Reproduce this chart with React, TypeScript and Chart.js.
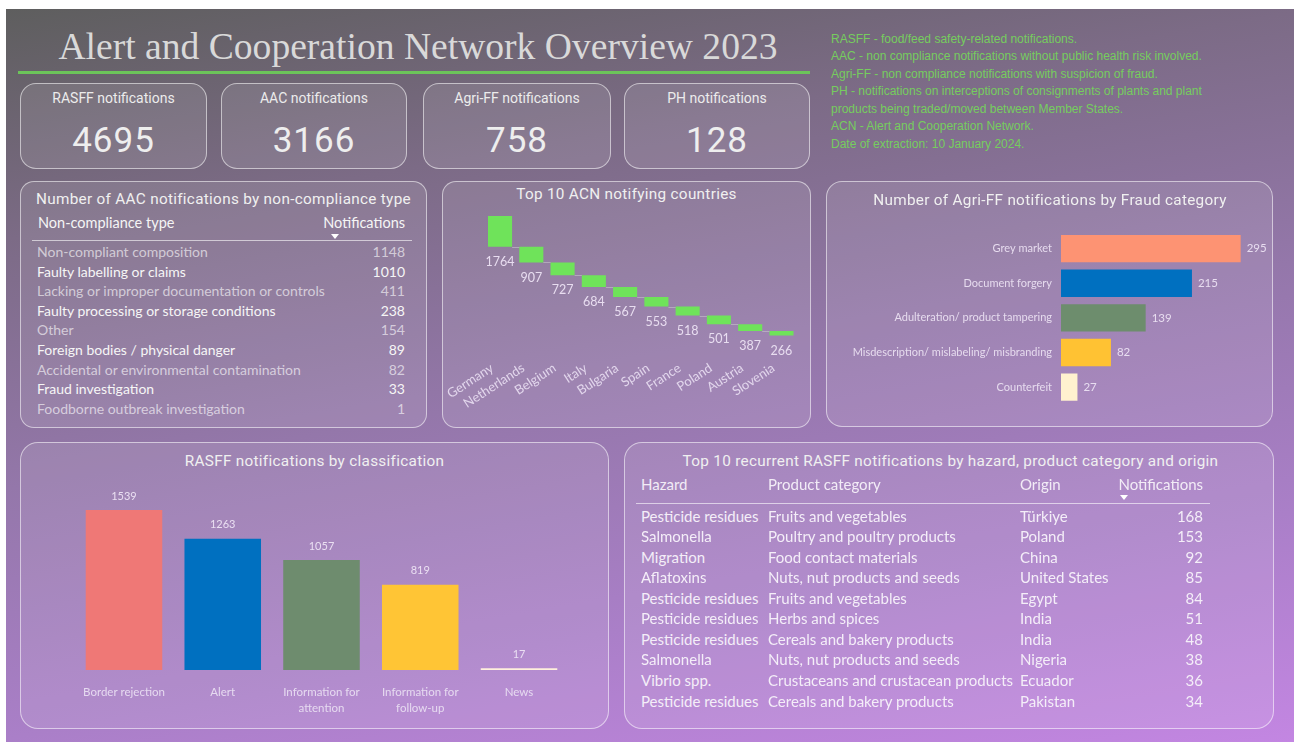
import React, { useEffect, useRef } from 'react';
import { Chart, registerables } from 'chart.js';

Chart.register(...registerables);
Chart.defaults.font.family = "Lato, 'Noto Sans', sans-serif";

// ---------------- data ----------------
const kpiLabels = ['RASFF notifications', 'AAC notifications', 'Agri-FF notifications', 'PH notifications'];
const kpiValues = [4695, 3166, 758, 128];

const noteLines = [
  'RASFF - food/feed safety-related notifications.',
  'AAC - non compliance notifications without public health risk involved.',
  'Agri-FF - non compliance notifications with suspicion of fraud.',
  'PH - notifications on interceptions of consignments of plants and plant',
  'products being traded/moved between Member States.',
  'ACN - Alert and Cooperation Network.',
  'Date of extraction: 10 January 2024.',
];

const aacTypes = [
  'Non-compliant composition',
  'Faulty labelling or claims',
  'Lacking or improper documentation or controls',
  'Faulty processing or storage conditions',
  'Other',
  'Foreign bodies / physical danger',
  'Accidental or environmental contamination',
  'Fraud investigation',
  'Foodborne outbreak investigation',
];
const aacCounts = [1148, 1010, 411, 238, 154, 89, 82, 33, 1];

const acnCountries = ['Germany', 'Netherlands', 'Belgium', 'Italy', 'Bulgaria', 'Spain', 'France', 'Poland', 'Austria', 'Slovenia'];
const acnCounts = [1764, 907, 727, 684, 567, 553, 518, 501, 387, 266];

const fraudCategories = [
  'Grey market',
  'Document forgery',
  'Adulteration/ product tampering',
  'Misdescription/ mislabeling/ misbranding',
  'Counterfeit',
];
const fraudCounts = [295, 215, 139, 82, 27];
const fraudColors = ['#fd9373', '#0070c0', '#6d8d6d', '#ffc233', '#fff1cf'];

const rasffClasses: (string | string[])[] = [
  'Border rejection',
  'Alert',
  ['Information for', 'attention'],
  ['Information for', 'follow-up'],
  'News',
];
const rasffCounts = [1539, 1263, 1057, 819, 17];
const rasffColors = ['#ef7876', '#0070c0', '#6e8c6e', '#ffc535', '#fff0dc'];

const topHazards = [
  'Pesticide residues', 'Salmonella', 'Migration', 'Aflatoxins', 'Pesticide residues',
  'Pesticide residues', 'Pesticide residues', 'Salmonella', 'Vibrio spp.', 'Pesticide residues',
];
const topProducts = [
  'Fruits and vegetables', 'Poultry and poultry products', 'Food contact materials', 'Nuts, nut products and seeds',
  'Fruits and vegetables', 'Herbs and spices', 'Cereals and bakery products', 'Nuts, nut products and seeds',
  'Crustaceans and crustacean products', 'Cereals and bakery products',
];
const topOrigins = ['Türkiye', 'Poland', 'China', 'United States', 'Egypt', 'India', 'India', 'Nigeria', 'Ecuador', 'Pakistan'];
const topCounts = [168, 153, 92, 85, 84, 51, 48, 38, 36, 34];

// ---------------- helpers ----------------
const DIN = "Roboto, 'Noto Sans', sans-serif";
const SEG = "Lato, 'Noto Sans', sans-serif";

type TxtProps = {
  x: number; y: number; text: string; size: number; color: string;
  family?: string; weight?: number; align?: 'left' | 'right' | 'center'; ls?: number;
};
function Txt({ x, y, text, size, color, family = SEG, weight = 400, align = 'left', ls = 0 }: TxtProps) {
  const lh = Math.round(size * 1.4);
  let left = x;
  let width: number | undefined = undefined;
  if (align === 'right') { left = x - 1000; width = 1000; }
  if (align === 'center') { left = x - 600; width = 1200; }
  return (
    <div style={{
      position: 'absolute', left, top: y - lh / 2, width, height: lh, lineHeight: lh + 'px',
      fontSize: size, fontFamily: family, fontWeight: weight, color, textAlign: align,
      whiteSpace: 'nowrap', letterSpacing: ls,
    }}>{text}</div>
  );
}

function Panel({ l, t, r, b, radius = 16 }: { l: number; t: number; r: number; b: number; radius?: number }) {
  return (
    <div style={{
      position: 'absolute', left: l, top: t, width: r - l, height: b - t, boxSizing: 'border-box',
      border: '1.5px solid rgba(255,255,255,0.55)', borderRadius: radius, background: 'rgba(255,255,255,0.10)',
    }} />
  );
}

function SortArrow({ x, y }: { x: number; y: number }) {
  return (
    <div style={{
      position: 'absolute', left: x - 4, top: y - 2, width: 0, height: 0,
      borderLeft: '4px solid transparent', borderRight: '4px solid transparent', borderTop: '5px solid #ffffff',
    }} />
  );
}

function ChartBox({ left, top, width, height, make }: { left: number; top: number; width: number; height: number; make: () => any }) {
  const ref = useRef<HTMLCanvasElement>(null);
  useEffect(() => {
    const chart = new Chart(ref.current as HTMLCanvasElement, make());
    return () => chart.destroy();
  }, []);
  return (
    <div style={{ position: 'absolute', left, top, width, height }}>
      <canvas ref={ref} width={width} height={height} style={{ width, height, display: 'block' }} />
    </div>
  );
}

// ---------------- chart configs ----------------
function makeRasff() {
  const labelPlugin = {
    id: 'rasffLabels',
    afterDatasetsDraw(chart: any) {
      const ctx = chart.ctx;
      const meta = chart.getDatasetMeta(0);
      ctx.save();
      ctx.font = `11px ${SEG}`;
      ctx.fillStyle = '#eadff2';
      ctx.textAlign = 'center';
      ctx.textBaseline = 'middle';
      meta.data.forEach((el: any, i: number) => {
        ctx.fillText(String(rasffCounts[i]), el.x, el.y - 14);
      });
      ctx.restore();
    },
  };
  return {
    type: 'bar',
    data: {
      labels: rasffClasses,
      datasets: [{ data: rasffCounts, backgroundColor: rasffColors, borderWidth: 0, barPercentage: 0.775, categoryPercentage: 1 }],
    },
    options: {
      animation: false, responsive: false,
      layout: { padding: { left: 54.6, right: 40.6, top: 15, bottom: 0 } },
      plugins: { legend: { display: false }, tooltip: { enabled: false } },
      scales: {
        x: {
          grid: { display: false, drawTicks: false }, border: { display: false },
          ticks: { color: '#e6daf0', font: { size: 11.5, lineHeight: 1.45 }, padding: 13.7, maxRotation: 0, autoSkip: false },
          afterFit: (s: any) => { s.height = 55; },
        },
        y: { display: false, min: 0, max: 1731 },
      },
    },
    plugins: [labelPlugin],
  };
}

function makeWaterfall() {
  const cumEnd: number[] = [];
  acnCounts.forEach((v, i) => cumEnd.push((i ? cumEnd[i - 1] : 0) + v));
  const floating = acnCounts.map((v, i) => [cumEnd[i] - v, cumEnd[i]]);
  const plugin = {
    id: 'wfLabels',
    afterDatasetsDraw(chart: any) {
      const ctx = chart.ctx;
      const meta = chart.getDatasetMeta(0);
      const yS = chart.scales.y;
      ctx.save();
      ctx.strokeStyle = 'rgba(200,195,205,0.6)';
      ctx.lineWidth = 1;
      for (let i = 0; i < meta.data.length - 1; i++) {
        const a = meta.data[i];
        const b = meta.data[i + 1];
        const y = Math.round(yS.getPixelForValue(cumEnd[i])) + 0.5;
        ctx.beginPath();
        ctx.moveTo(a.x + a.width / 2, y);
        ctx.lineTo(b.x - b.width / 2, y);
        ctx.stroke();
      }
      ctx.font = `12.5px ${SEG}`;
      ctx.fillStyle = '#e8ddf0';
      ctx.textAlign = 'center';
      ctx.textBaseline = 'middle';
      meta.data.forEach((el: any, i: number) => {
        ctx.fillText(String(acnCounts[i]), el.x, yS.getPixelForValue(cumEnd[i]) + 15);
      });
      ctx.restore();
    },
  };
  return {
    type: 'bar',
    data: {
      labels: acnCountries,
      datasets: [{ data: floating, backgroundColor: '#6fe35a', borderWidth: 0, barPercentage: 0.77, categoryPercentage: 1 }],
    },
    options: {
      animation: false, responsive: false,
      layout: { padding: { left: 42.4, right: 13.9, top: 11, bottom: 0 } },
      plugins: { legend: { display: false }, tooltip: { enabled: false } },
      scales: {
        x: {
          grid: { display: false, drawTicks: false }, border: { display: false },
          ticks: { color: '#e2d6ec', font: { size: 13 }, minRotation: 33, maxRotation: 33, autoSkip: false, padding: 5, labelOffset: -8 },
          afterFit: (s: any) => { s.height = 69.8; },
        },
        y: { display: false, reverse: true, min: 0, max: 8000 },
      },
    },
    plugins: [plugin],
  };
}

function makeFraud() {
  const plugin = {
    id: 'fraudLabels',
    afterDatasetsDraw(chart: any) {
      const ctx = chart.ctx;
      const meta = chart.getDatasetMeta(0);
      ctx.save();
      ctx.font = `11.5px ${SEG}`;
      ctx.fillStyle = '#e8ddf0';
      ctx.textAlign = 'left';
      ctx.textBaseline = 'middle';
      meta.data.forEach((el: any, i: number) => {
        ctx.fillText(String(fraudCounts[i]), el.x + 6, el.y);
      });
      ctx.restore();
    },
  };
  return {
    type: 'bar',
    data: {
      labels: fraudCategories,
      datasets: [{ data: fraudCounts, backgroundColor: fraudColors, borderWidth: 0, barPercentage: 0.79, categoryPercentage: 1 }],
    },
    options: {
      indexAxis: 'y',
      animation: false, responsive: false,
      layout: { padding: { left: 0, right: 11, top: 16.3, bottom: 13.6 } },
      plugins: { legend: { display: false }, tooltip: { enabled: false } },
      scales: {
        x: { display: false, min: 0, max: 330 },
        y: {
          grid: { display: false, drawTicks: false }, border: { display: false },
          ticks: { color: '#e6dbee', font: { size: 11 }, padding: 9, autoSkip: false },
          afterFit: (s: any) => { s.width = 235; },
        },
      },
    },
    plugins: [plugin],
  };
}

// ---------------- app ----------------
const kpiBoxes = [[20, 207], [221, 407], [423, 611], [624, 810]];
const TITLE_C = '#f0f0f0';

export default function App() {
  useEffect(() => {
    document.body.style.margin = '0';
  }, []);
  return (
    <div style={{ position: 'absolute', left: 0, top: 0, width: 1294, height: 742, background: '#ffffff', overflow: 'hidden', fontFamily: SEG }}>
      <div style={{
        position: 'absolute', left: 6, top: 9, width: 1288, height: 733,
        background: 'linear-gradient(170deg, #5e5e5e 0%, #7c6b86 24%, #9477aa 50%, #aa7fc8 76%, #c386e2 100%)',
      }} />

      <Txt x={418} y={46} text="Alert and Cooperation Network Overview 2023" size={37.6}
        family="'Liberation Serif', 'Times New Roman', serif" color="#d9d9d9" align="center" />
      <div style={{ position: 'absolute', left: 18, top: 71, width: 792, height: 3, background: '#6cc45a' }} />

      {kpiBoxes.map(([l, r], i) => (
        <React.Fragment key={i}>
          <Panel l={l} t={83} r={r} b={169} radius={16} />
          <Txt x={(l + r) / 2} y={98} text={kpiLabels[i]} size={14} family={DIN} color="#ececec" align="center" />
          <Txt x={(l + r) / 2} y={140} text={String(kpiValues[i])} size={35} family={DIN} color="#eeeeee" align="center" ls={1} />
        </React.Fragment>
      ))}

      {noteLines.map((t, i) => (
        <Txt key={i} x={831} y={39 + i * 17.55} text={t} size={12}
          family="'Liberation Sans', Arial, sans-serif" color="#76cd5e" />
      ))}

      {/* AAC table */}
      <Panel l={20} t={181} r={427} b={428} radius={14} />
      <Txt x={223.5} y={199} text="Number of AAC notifications by non-compliance type" size={15.3} family={DIN} color={TITLE_C} align="center" ls={0.3} />
      <Txt x={38} y={223} text="Non-compliance type" size={14.5} color="#f5f5f5" />
      <Txt x={405} y={223} text="Notifications" size={14.5} color="#f5f5f5" align="right" />
      <SortArrow x={335} y={236} />
      <div style={{ position: 'absolute', left: 32, top: 240, width: 380, height: 1, background: 'rgba(255,255,255,0.6)' }} />
      {aacTypes.map((t, i) => {
        const c = i % 2 === 0 ? 'rgba(255,255,255,0.62)' : '#f6f6f6';
        return (
          <React.Fragment key={i}>
            <Txt x={37} y={252 + i * 19.6} text={t} size={14} color={c} />
            <Txt x={405} y={252 + i * 19.6} text={String(aacCounts[i])} size={14} color={c} align="right" />
          </React.Fragment>
        );
      })}

      {/* Waterfall */}
      <Panel l={442} t={181} r={811} b={428} radius={14} />
      <Txt x={626.5} y={194} text="Top 10 ACN notifying countries" size={15.3} family={DIN} color={TITLE_C} align="center" ls={0.3} />
      <ChartBox left={442} top={205} width={369} height={220} make={makeWaterfall} />

      {/* Agri-FF */}
      <Panel l={826} t={181} r={1273} b={427} radius={16} />
      <Txt x={1050} y={200} text="Number of Agri-FF notifications by Fraud category" size={15.3} family={DIN} color={TITLE_C} align="center" ls={0.3} />
      <ChartBox left={826} top={215} width={447} height={205} make={makeFraud} />

      {/* RASFF classification */}
      <Panel l={20} t={442} r={609} b={729} radius={18} />
      <Txt x={314.5} y={461} text="RASFF notifications by classification" size={15.3} family={DIN} color={TITLE_C} align="center" ls={0.3} />
      <ChartBox left={20} top={475} width={589} height={250} make={makeRasff} />

      {/* Top 10 table */}
      <Panel l={624} t={442} r={1274} b={729} radius={18} />
      <Txt x={950.5} y={461} text="Top 10 recurrent RASFF notifications by hazard, product category and origin" size={15.3} family={DIN} color={TITLE_C} align="center" ls={0.3} />
      <Txt x={641} y={484} text="Hazard" size={15} color="#f2ecf6" />
      <Txt x={768} y={484} text="Product category" size={15} color="#f2ecf6" />
      <Txt x={1020} y={484} text="Origin" size={15} color="#f2ecf6" />
      <Txt x={1203} y={484} text="Notifications" size={15} color="#f2ecf6" align="right" />
      <SortArrow x={1124} y={497} />
      <div style={{ position: 'absolute', left: 636, top: 503, width: 574, height: 1, background: 'rgba(255,255,255,0.6)' }} />
      {topHazards.map((h, i) => {
        const y = 516 + i * 20.56;
        const c = '#f4eef8';
        return (
          <React.Fragment key={i}>
            <Txt x={641} y={y} text={h} size={15} color={c} />
            <Txt x={768} y={y} text={topProducts[i]} size={15} color={c} />
            <Txt x={1020} y={y} text={topOrigins[i]} size={15} color={c} />
            <Txt x={1203} y={y} text={String(topCounts[i])} size={15} color={c} align="right" />
          </React.Fragment>
        );
      })}
    </div>
  );
}
